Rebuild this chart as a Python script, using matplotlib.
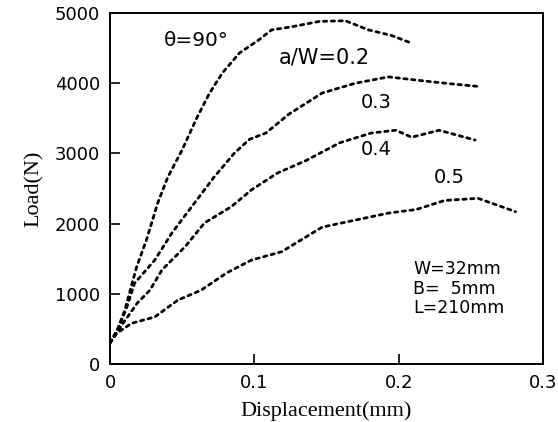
import matplotlib
matplotlib.use("Agg")
import matplotlib.pyplot as plt

# Load-displacement curves for a/W = 0.2, 0.3, 0.4, 0.5 (theta = 90 deg)
disp_02 = [0.0, 0.005, 0.0103, 0.0184, 0.0253, 0.033, 0.040, 0.050, 0.060, 0.069,
           0.078, 0.0897, 0.103, 0.112, 0.125, 0.145, 0.163, 0.179, 0.195, 0.209]
load_02 = [300, 480, 770, 1380, 1770, 2290, 2660, 3050, 3500, 3860,
           4150, 4430, 4615, 4760, 4800, 4880, 4890, 4760, 4680, 4570]

disp_03 = [0.0, 0.006, 0.0115, 0.017, 0.031, 0.043, 0.0566, 0.072, 0.086, 0.0966,
           0.108, 0.124, 0.147, 0.170, 0.193, 0.212, 0.232, 0.257]
load_03 = [300, 520, 800, 1150, 1480, 1870, 2240, 2660, 3000, 3200,
           3290, 3560, 3860, 4000, 4090, 4045, 4000, 3950]

disp_04 = [0.0, 0.009, 0.019, 0.0276, 0.036, 0.052, 0.0655, 0.084, 0.098, 0.116,
           0.136, 0.159, 0.181, 0.198, 0.209, 0.228, 0.253]
load_04 = [300, 580, 870, 1050, 1340, 1670, 2010, 2240, 2480, 2720,
           2900, 3150, 3290, 3330, 3230, 3330, 3190]

disp_05 = [0.0, 0.0048, 0.015, 0.031, 0.047, 0.063, 0.081, 0.098, 0.119, 0.147,
           0.170, 0.193, 0.212, 0.232, 0.255, 0.281]
load_05 = [300, 440, 580, 670, 910, 1050, 1300, 1480, 1600, 1950,
           2050, 2150, 2200, 2330, 2360, 2170]

x_ticks = [0, 0.1, 0.2, 0.3]
x_tick_labels = ["0", "0.1", "0.2", "0.3"]
y_ticks = [0, 1000, 2000, 3000, 4000, 5000]
y_tick_labels = ["0", "1000", "2000", "3000", "4000", "5000"]

fig = plt.figure(figsize=(5.58, 4.22), dpi=100)
ax = fig.add_axes([110 / 558, 58 / 422, 433 / 558, 351 / 422])

for xs, ys in [(disp_02, load_02), (disp_03, load_03), (disp_04, load_04), (disp_05, load_05)]:
    ax.plot(xs, ys, color="black", linestyle=(0, (1.2, 1.6)), linewidth=2.0,
            dash_capstyle="round")

ax.set_xlim(0, 0.3)
ax.set_ylim(0, 5000)
ax.set_xticks(x_ticks)
ax.set_xticklabels(x_tick_labels)
ax.set_yticks(y_ticks)
ax.set_yticklabels(y_tick_labels)
ax.tick_params(direction="in", length=7, width=1.2, labelsize=13, pad=7)
for lab in ax.get_xticklabels() + ax.get_yticklabels():
    lab.set_family("DejaVu Sans")
for sp in ax.spines.values():
    sp.set_linewidth(1.4)

ax.set_xlabel("Displacement(mm)", fontsize=16, family="Liberation Serif", labelpad=7)
ax.set_ylabel("Load(N)", fontsize=16, family="Liberation Serif", labelpad=8)

tkw = dict(family="DejaVu Sans", color="black", va="center", ha="left")
ax.text(0.037, 4615, "θ=90°", fontsize=14.5, **tkw)
ax.text(0.117, 4370, "a/W=0.2", fontsize=15, **tkw)
ax.text(0.174, 3720, "0.3", fontsize=14, **tkw)
ax.text(0.174, 3060, "0.4", fontsize=14, **tkw)
ax.text(0.224, 2650, "0.5", fontsize=14, **tkw)
ax.text(0.21, 1353, "W=32mm", fontsize=12.5, **tkw)
ax.text(0.21, 1068, "B=  5mm", fontsize=12.5, **tkw)
ax.text(0.21, 798, "L=210mm", fontsize=12.5, **tkw)

fig.savefig("out.png", dpi=100)
